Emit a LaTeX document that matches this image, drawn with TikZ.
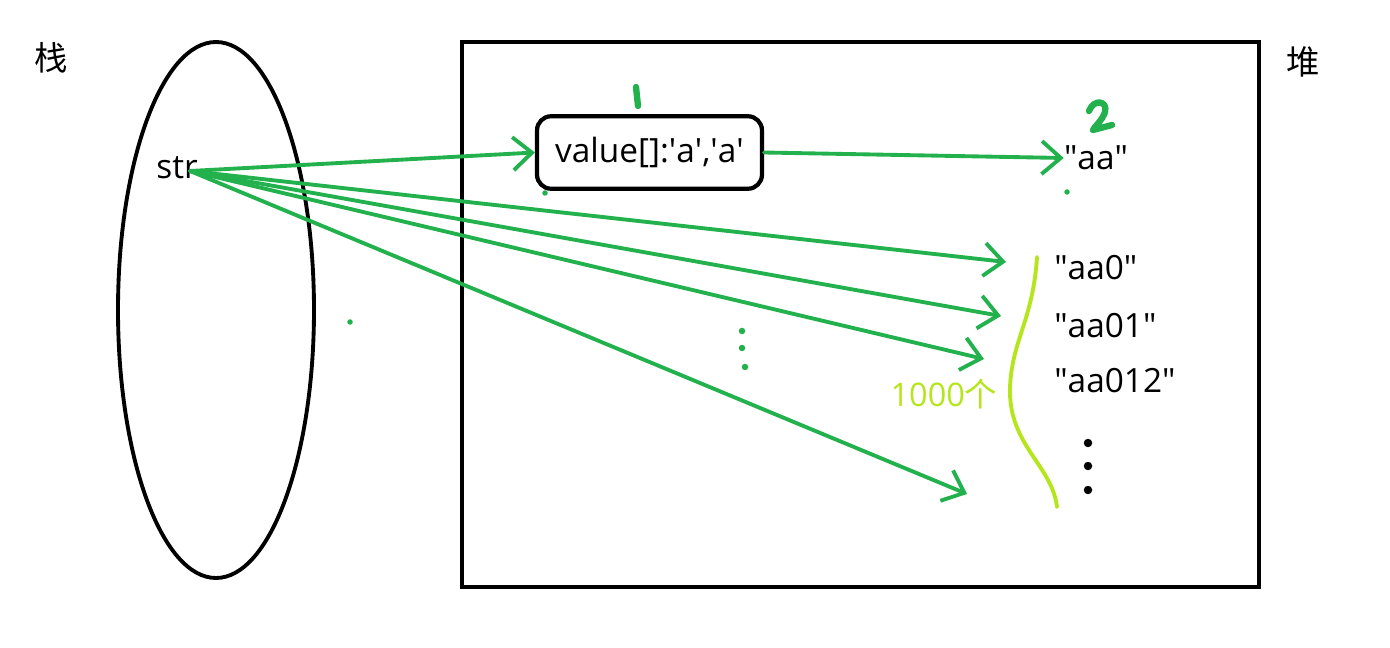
\documentclass[tikz,border=0pt]{standalone}
\usepackage{fontspec}
\setmainfont{Open Sans}
\newfontfamily\cjk{Noto Sans CJK SC}
\usetikzlibrary{arrows.meta,positioning}
\definecolor{paintgreen}{RGB}{34,177,76}
\definecolor{paintlime}{RGB}{181,230,29}
\newcommand{\dq}{\textquotedbl}
\newcommand{\sq}{\textquotesingle}
\tikzset{
    memory diagram/.style = {x=0.02cm, y=-0.02cm,
                             >={Straight Barb[length=3.8mm, width=6.6mm]}},
    frame/.style          = {draw, line width=2.6pt},
    cell/.style           = {draw, line width=2.4pt, rounded corners=8pt,
                             minimum width=4.5cm, minimum height=1.45cm,
                             font=\fontsize{19}{22}\selectfont},
    item/.style           = {font=\fontsize{19}{22}\selectfont, inner sep=0pt},
    title/.style          = {font=\cjk\fontsize{19}{22}\selectfont},
    ref/.style            = {draw=paintgreen, line width=2.2pt, line cap=round},
    handmark/.style       = {draw=paintgreen, line width=3.6pt, line cap=round,
                             line join=round},
    gdot/.style           = {circle, fill=paintgreen, inner sep=0pt,
                             minimum size=0.13cm},
    bdot/.style           = {circle, fill=black, inner sep=0pt,
                             minimum size=0.17cm}
}

\begin{document}
\begin{tikzpicture}[memory diagram]
\useasboundingbox (0,0) rectangle (1390,648);

% Stack side with the one reference variable.
\node[title] (stack) at (51,58) {栈};
\draw[frame, line width=2.2pt] (216,310) ellipse [x radius=98, y radius=268];
\node[item] (str) at (177,168) {str};
\coordinate (src) at (190,171);
\node[gdot, minimum size=0.11cm] (stray) at (350,322) {};

% Heap side: the backing array and the pooled strings.
\node[title] (heap) at (1303,62) {堆};
\draw[frame] (462,42) rectangle (1259,587);
\node[cell] (array) at (649.5,152.5) {value[]:\sq a\sq,\sq a\sq};
\node[item] (aa) at (1096,158) {\dq aa\dq};
\node[item, anchor=west] (aa0) at (1054,268) {\dq aa0\dq};
\node[item, anchor=west] (aa01) at (1054,326) {\dq aa01\dq};
\node[item, anchor=west] (aa012) at (1054,381) {\dq aa012\dq};
\foreach \y [count=\i] in {443,466,490}
    \node[bdot] (more\i) at (1088,\y) {};
\foreach \x/\y [count=\i] in {742/331,742/348,745/367}
    \node[gdot] (skip\i) at (\x,\y) {};
\node[gdot, minimum size=0.11cm] (dotA) at (545,193) {};
\node[gdot, minimum size=0.11cm] (dotB) at (1067,192) {};

% Step numbers written by hand.
\draw[handmark] (636,87) -- (638,106);
\draw[handmark] (1089,111) .. controls (1094,98) and (1108,101) .. (1105,112)
    .. controls (1102,121) and (1094,127) .. (1093,130) -- (1112,125);

% References from str.
\coordinate (t0) at (1006,262);
\coordinate (t1) at (1001,316);
\coordinate (t2) at (984,359);
\coordinate (t3) at (967,494);
\draw[ref, ->] (src) -- (array.west);
\draw[ref, ->] (array.east) -- (aa.west);
\foreach \t in {t0,t1,t2,t3}
    \draw[ref, ->] (src) -- (\t);

% The thousand generated strings.
\draw[paintlime, line width=2.2pt, line cap=round] (1037,257)
    .. controls (1033,320) and (1012,340) .. (1010,387)
    .. controls (1008,445) and (1052,465) .. (1057,507);
\node[font=\fontsize{18.5}{21}\selectfont, text=paintlime, inner sep=0pt]
    (count) at (944,394) {1000{\cjk 个}};

\end{tikzpicture}
\end{document}
